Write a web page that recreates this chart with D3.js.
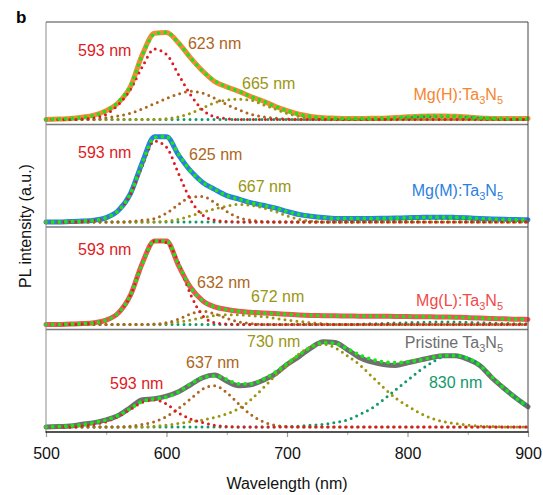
<!DOCTYPE html>
<html>
<head>
    <meta charset="utf-8">
    <title>PL spectra</title>
    <script src="https://d3js.org/d3.v7.min.js"></script>
    <style>
        body { margin: 0; background: #fff; }
        text { font-family: "Liberation Sans", Arial, Helvetica, sans-serif; }
    </style>
</head>
<body>
<div id="chart"></div>
<script type="text/javascript">

// wavelengths (nm), one point every 10 nm
const wavelengths = [500, 510, 520, 530, 540, 550, 560, 570, 580, 590,
                     600, 610, 620, 630, 640, 650, 660, 670, 680, 690,
                     700, 710, 720, 730, 740, 750, 760, 770, 780, 790,
                     800, 810, 820, 830, 840, 850, 860, 870, 880, 890, 900];

const samples = ["Mg(H)", "Mg(M)", "Mg(L)", "Pristine"];
const xTicks = [500, 600, 700, 800, 900];
const xMinorTicks = [550, 650, 750, 850];

// Mg(H):Ta3N5
const mgH_measured = [0, 0.005, 0.01, 0.025, 0.05, 0.1, 0.19, 0.37, 0.74, 0.98,
                      0.99, 0.87, 0.70, 0.55, 0.43, 0.37, 0.32, 0.26, 0.21, 0.15,
                      0.10, 0.06, 0.035, 0.02, 0.015, 0.012, 0.012, 0.013, 0.015, 0.022,
                      0.03, 0.037, 0.04, 0.04, 0.036, 0.028, 0.018, 0.012, 0.01, 0.01, 0.01];
const mgH_fit      = [0, 0.005, 0.01, 0.022, 0.048, 0.1, 0.2, 0.38, 0.73, 0.97,
                      0.99, 0.87, 0.70, 0.55, 0.44, 0.37, 0.32, 0.26, 0.21, 0.15,
                      0.10, 0.06, 0.035, 0.02, 0.015, 0.012, 0.012, 0.013, 0.016, 0.022,
                      0.03, 0.036, 0.04, 0.04, 0.036, 0.028, 0.018, 0.012, 0.01, 0.01, 0.01];
const mgH_593 = [0, 0, 0, 0.005, 0.02, 0.06, 0.17, 0.34, 0.6, 0.8,
                 0.74, 0.51, 0.28, 0.11, 0.03, 0.01, 0, 0, 0, 0,
                 0, 0, 0, 0, 0, 0, 0, 0, 0, 0,
                 0, 0, 0, 0, 0, 0, 0, 0, 0, 0, 0];
const mgH_623 = [0, 0, 0, 0, 0, 0.02, 0.04, 0.07, 0.12, 0.18,
                 0.24, 0.29, 0.32, 0.30, 0.24, 0.17, 0.11, 0.06, 0.03, 0.015,
                 0.005, 0, 0, 0, 0, 0, 0, 0, 0, 0,
                 0, 0, 0, 0, 0, 0, 0, 0, 0, 0, 0];
const mgH_665 = [0, 0, 0, 0, 0, 0, 0, 0, 0, 0,
                 0.01, 0.03, 0.07, 0.13, 0.19, 0.22, 0.23, 0.22, 0.17, 0.12,
                 0.07, 0.035, 0.015, 0.005, 0, 0, 0, 0, 0, 0,
                 0, 0, 0, 0, 0, 0, 0, 0, 0, 0, 0];
const mgH_830 = [0, 0, 0, 0, 0, 0, 0, 0, 0, 0,
                 0, 0, 0, 0, 0, 0, 0, 0, 0, 0,
                 0, 0, 0, 0, 0, 0, 0, 0, 0.005, 0.012,
                 0.02, 0.028, 0.033, 0.035, 0.032, 0.025, 0.016, 0.01, 0.005, 0.002, 0];

// Mg(M):Ta3N5
const mgM_measured = [0, 0, 0.005, 0.01, 0.02, 0.05, 0.13, 0.32, 0.68, 0.97,
                      0.97, 0.76, 0.58, 0.45, 0.37, 0.30, 0.26, 0.22, 0.19, 0.16,
                      0.12, 0.085, 0.065, 0.05, 0.04, 0.04, 0.04, 0.04, 0.042, 0.045,
                      0.048, 0.052, 0.055, 0.055, 0.052, 0.047, 0.04, 0.035, 0.03, 0.027, 0.025];
const mgM_fit      = [0, 0, 0.005, 0.01, 0.02, 0.05, 0.13, 0.32, 0.67, 0.96,
                      0.97, 0.77, 0.58, 0.45, 0.37, 0.30, 0.26, 0.22, 0.19, 0.16,
                      0.12, 0.085, 0.065, 0.05, 0.042, 0.04, 0.04, 0.04, 0.042, 0.045,
                      0.048, 0.052, 0.055, 0.055, 0.052, 0.047, 0.04, 0.035, 0.03, 0.027, 0.025];
const mgM_593 = [0, 0, 0, 0.005, 0.02, 0.05, 0.13, 0.31, 0.64, 0.92,
                 0.85, 0.55, 0.25, 0.08, 0.02, 0.005, 0, 0, 0, 0,
                 0, 0, 0, 0, 0, 0, 0, 0, 0, 0,
                 0, 0, 0, 0, 0, 0, 0, 0, 0, 0, 0];
const mgM_625 = [0, 0, 0, 0, 0, 0, 0, 0.005, 0.02, 0.04,
                 0.10, 0.20, 0.28, 0.29, 0.22, 0.12, 0.05, 0.02, 0.005, 0,
                 0, 0, 0, 0, 0, 0, 0, 0, 0, 0,
                 0, 0, 0, 0, 0, 0, 0, 0, 0, 0, 0];
const mgM_667 = [0, 0, 0, 0, 0, 0, 0, 0, 0, 0,
                 0.01, 0.03, 0.07, 0.11, 0.15, 0.18, 0.20, 0.19, 0.16, 0.12,
                 0.07, 0.03, 0.01, 0, 0, 0, 0, 0, 0, 0,
                 0, 0, 0, 0, 0, 0, 0, 0, 0, 0, 0];
const mgM_830 = [0, 0, 0, 0, 0, 0, 0, 0, 0, 0,
                 0, 0, 0, 0, 0, 0, 0, 0, 0, 0,
                 0, 0, 0, 0, 0, 0, 0.005, 0.01, 0.015, 0.022,
                 0.03, 0.036, 0.04, 0.04, 0.037, 0.03, 0.022, 0.015, 0.01, 0.006, 0.004];

// Mg(L):Ta3N5
const mgL_measured = [0, 0, 0.005, 0.01, 0.02, 0.05, 0.13, 0.33, 0.70, 0.95,
                      0.95, 0.67, 0.42, 0.27, 0.20, 0.17, 0.15, 0.14, 0.13, 0.125,
                      0.115, 0.108, 0.103, 0.10, 0.098, 0.096, 0.095, 0.094, 0.093, 0.092,
                      0.09, 0.088, 0.087, 0.085, 0.082, 0.078, 0.073, 0.068, 0.064, 0.06, 0.057];
const mgL_fit      = [0, 0, 0.005, 0.01, 0.02, 0.05, 0.13, 0.33, 0.69, 0.95,
                      0.95, 0.68, 0.42, 0.27, 0.20, 0.17, 0.15, 0.14, 0.13, 0.124,
                      0.115, 0.108, 0.103, 0.10, 0.098, 0.096, 0.095, 0.094, 0.093, 0.092,
                      0.09, 0.088, 0.087, 0.085, 0.082, 0.078, 0.073, 0.068, 0.064, 0.06, 0.057];
const mgL_593 = [0, 0, 0, 0.005, 0.02, 0.05, 0.13, 0.33, 0.70, 0.95,
                 0.93, 0.70, 0.34, 0.10, 0.02, 0.005, 0, 0, 0, 0,
                 0, 0, 0, 0, 0, 0, 0, 0, 0, 0,
                 0, 0, 0, 0, 0, 0, 0, 0, 0, 0, 0];
const mgL_632 = [0, 0, 0, 0, 0, 0, 0, 0, 0, 0.005,
                 0.02, 0.06, 0.12, 0.15, 0.12, 0.07, 0.03, 0.01, 0, 0,
                 0, 0, 0, 0, 0, 0, 0, 0, 0, 0,
                 0, 0, 0, 0, 0, 0, 0, 0, 0, 0, 0];
const mgL_672 = [0, 0, 0, 0, 0, 0, 0, 0, 0, 0,
                 0.01, 0.03, 0.05, 0.08, 0.10, 0.11, 0.11, 0.10, 0.09, 0.07,
                 0.05, 0.035, 0.02, 0.01, 0, 0, 0, 0, 0, 0,
                 0, 0, 0, 0, 0, 0, 0, 0, 0, 0, 0];
const mgL_830 = [0, 0, 0, 0, 0, 0, 0, 0, 0, 0,
                 0, 0, 0, 0, 0, 0, 0, 0, 0, 0,
                 0, 0, 0, 0, 0, 0, 0.004, 0.008, 0.012, 0.016,
                 0.02, 0.024, 0.027, 0.028, 0.027, 0.024, 0.02, 0.016, 0.012, 0.009, 0.007];

// Pristine Ta3N5
const pristine_measured = [0, 0.005, 0.01, 0.03, 0.05, 0.08, 0.13, 0.22, 0.31, 0.32,
                           0.35, 0.40, 0.48, 0.56, 0.59, 0.52, 0.47, 0.48, 0.53, 0.60,
                           0.71, 0.80, 0.90, 0.97, 0.96, 0.88, 0.79, 0.74, 0.71, 0.70,
                           0.73, 0.76, 0.79, 0.81, 0.81, 0.77, 0.70, 0.56, 0.44, 0.33, 0.23];
const pristine_fit      = [0, 0.005, 0.012, 0.025, 0.05, 0.08, 0.13, 0.21, 0.29, 0.32,
                           0.34, 0.40, 0.49, 0.56, 0.58, 0.54, 0.49, 0.49, 0.54, 0.62,
                           0.72, 0.82, 0.91, 0.96, 0.95, 0.89, 0.82, 0.77, 0.74, 0.73,
                           0.74, 0.76, 0.79, 0.81, 0.81, 0.78, 0.70, 0.57, 0.44, 0.33, 0.23];
const pristine_593 = [0, 0, 0, 0.01, 0.03, 0.06, 0.12, 0.20, 0.28, 0.31,
                      0.26, 0.16, 0.09, 0.05, 0.02, 0.005, 0, 0, 0, 0,
                      0, 0, 0, 0, 0, 0, 0, 0, 0, 0,
                      0, 0, 0, 0, 0, 0, 0, 0, 0, 0, 0];
const pristine_637 = [0, 0, 0, 0, 0, 0, 0, 0.01, 0.03, 0.06,
                      0.12, 0.21, 0.32, 0.43, 0.47, 0.39, 0.26, 0.14, 0.06, 0.02,
                      0.005, 0, 0, 0, 0, 0, 0, 0, 0, 0,
                      0, 0, 0, 0, 0, 0, 0, 0, 0, 0, 0];
const pristine_730 = [0, 0, 0, 0, 0, 0, 0, 0, 0, 0.01,
                      0.02, 0.04, 0.06, 0.08, 0.11, 0.15, 0.21, 0.31, 0.44, 0.58,
                      0.70, 0.83, 0.91, 0.94, 0.90, 0.81, 0.71, 0.58, 0.45, 0.33,
                      0.24, 0.16, 0.10, 0.06, 0.04, 0.02, 0.01, 0.005, 0, 0, 0];
const pristine_830 = [0, 0, 0, 0, 0, 0, 0, 0, 0, 0,
                      0, 0, 0, 0, 0, 0, 0, 0, 0, 0,
                      0.005, 0.01, 0.02, 0.03, 0.05, 0.08, 0.14, 0.21, 0.31, 0.42,
                      0.53, 0.64, 0.73, 0.80, 0.81, 0.78, 0.70, 0.57, 0.44, 0.33, 0.23];

const measuredSeries = [mgH_measured, mgM_measured, mgL_measured, pristine_measured];
const fitSeries = [mgH_fit, mgM_fit, mgL_fit, pristine_fit];
// components in drawing order: teal, olive, brown, red
const componentSeries = [
    [mgH_830, mgH_665, mgH_623, mgH_593],
    [mgM_830, mgM_667, mgM_625, mgM_593],
    [mgL_830, mgL_672, mgL_632, mgL_593],
    [pristine_830, pristine_730, pristine_637, pristine_593]
];

const measuredColors = ["#f7883a", "#2b7fe0", "#f25252", "#6f6f6f"];
const nameColors = ["#f5852f", "#2b7fe0", "#f04a4a", "#6e6e6e"];
const componentColors = ["#12996a", "#9a9612", "#ad6620", "#dd1b22"];
const fitColor = "#19e619";

// peak labels: [text, wavelength, intensity, colour index]
const peakLabels = [
    [["593 nm", 526.6, 0.72, 3], ["623 nm", 617.8, 0.80, 2], ["665 nm", 662.7, 0.35, 1]],
    [["593 nm", 526.6, 0.73, 3], ["625 nm", 618.7, 0.70, 2], ["667 nm", 659.3, 0.34, 1]],
    [["593 nm", 526.6, 0.79, 3], ["632 nm", 625.3, 0.415, 2], ["672 nm", 670.1, 0.255, 1]],
    [["593 nm", 553.1, 0.43, 3], ["637 nm", 616.2, 0.675, 2], ["730 nm", 666.8, 0.91, 1], ["830 nm", 817.8, 0.44, 0]]
];
const sampleNames = [
    [["Mg(H):Ta", ""], ["3", "sub"], ["N", ""], ["5", "sub"]],
    [["Mg(M):Ta", ""], ["3", "sub"], ["N", ""], ["5", "sub"]],
    [["Mg(L):Ta", ""], ["3", "sub"], ["N", ""], ["5", "sub"]],
    [["Pristine Ta", ""], ["3", "sub"], ["N", ""], ["5", "sub"]]
];
const nameY = [0.22, 0.295, 0.214, 0.90];

function render_spectra() {
    let width = 543, height = 495;
    let left = 46, right = 528, top = 22, bottom = 432;

    let svg = d3.select("#chart")
        .append("svg")
            .attr("width", width)
            .attr("height", height);

    let xScale = d3.scaleLinear().domain([500, 900]).range([left, right]);
    let panelScale = d3.scaleBand().domain(samples).range([top, bottom]);

    samples.forEach(function(s, p) {
        let pTop = panelScale(s);
        let pBottom = pTop + panelScale.bandwidth();
        let yScale = d3.scaleLinear().domain([-0.057, 1.108]).range([pBottom, pTop]);

        let line = d3.line()
            .x(function(d, i) { return xScale(wavelengths[i]); })
            .y(function(d) { return yScale(d); })
            .curve(d3.curveMonotoneX);

        let g = svg.append("g");

        // measured spectrum
        g.append("path")
            .attr("d", line(measuredSeries[p]))
            .attr("fill", "none")
            .attr("stroke", measuredColors[p])
            .attr("stroke-width", 5)
            .attr("stroke-linejoin", "round")
            .attr("stroke-linecap", "round");

        // fitted components
        componentSeries[p].forEach(function(comp, c) {
            g.append("path")
                .attr("d", line(comp))
                .attr("fill", "none")
                .attr("stroke", componentColors[c])
                .attr("stroke-width", 3)
                .attr("stroke-linecap", "round")
                .attr("stroke-dasharray", "0 6");
        });

        // cumulative fit
        g.append("path")
            .attr("d", line(fitSeries[p]))
            .attr("fill", "none")
            .attr("stroke", fitColor)
            .attr("stroke-width", 3.8)
            .attr("stroke-linecap", "round")
            .attr("stroke-dasharray", "0 6.6");

        // peak labels
        peakLabels[p].forEach(function(l) {
            g.append("text")
                .attr("x", xScale(l[1]))
                .attr("y", yScale(l[2]))
                .attr("font-size", "16px")
                .attr("fill", componentColors[l[3]])
                .text(l[0]);
        });

        // sample name with subscripts
        let name = g.append("text")
            .attr("x", xScale(879.3))
            .attr("y", yScale(nameY[p]))
            .attr("font-size", "16px")
            .attr("text-anchor", "end")
            .attr("fill", nameColors[p]);
        sampleNames[p].forEach(function(part, k) {
            let t = name.append("tspan").text(part[0]);
            if (part[1] === "sub") {
                t.attr("font-size", "11px").attr("dy", 4);
            } else if (k > 0) {
                t.attr("dy", -4);
            }
        });

        // separator between panels
        if (p > 0) {
            svg.append("line")
                .attr("x1", left).attr("x2", right)
                .attr("y1", pTop).attr("y2", pTop)
                .attr("stroke", "#7a7a7a")
                .attr("stroke-width", 1.6);
        }
    });

    // frame
    svg.append("line").attr("x1", left).attr("x2", right).attr("y1", top).attr("y2", top)
        .attr("stroke", "#444").attr("stroke-width", 1);
    svg.append("line").attr("x1", right).attr("x2", right).attr("y1", top).attr("y2", bottom)
        .attr("stroke", "#444").attr("stroke-width", 1);
    svg.append("line").attr("x1", left).attr("x2", left).attr("y1", top).attr("y2", bottom)
        .attr("stroke", "#8a8a8a").attr("stroke-width", 1);

    // x axis
    let xAxis = d3.axisBottom(xScale)
        .tickValues(xTicks)
        .tickFormat(d3.format("d"))
        .tickSize(5)
        .tickPadding(11);
    let xAxisMinor = d3.axisBottom(xScale)
        .tickValues(xMinorTicks)
        .tickFormat("")
        .tickSize(3);

    let ax = svg.append("g")
        .attr("transform", "translate(0," + bottom + ")")
        .call(xAxis);
    ax.select(".domain").remove();
    ax.selectAll(".tick line").attr("stroke", "#999").attr("stroke-width", 1.2);
    ax.selectAll(".tick text")
        .attr("font-family", "'Liberation Sans', Arial, sans-serif")
        .attr("font-size", "16px")
        .attr("fill", "#111");

    let axm = svg.append("g")
        .attr("transform", "translate(0," + bottom + ")")
        .call(xAxisMinor);
    axm.select(".domain").remove();
    axm.selectAll(".tick line").attr("stroke", "#aaa");

    svg.append("line").attr("x1", left - 0.5).attr("x2", right + 0.5).attr("y1", bottom).attr("y2", bottom)
        .attr("stroke", "#1a1a1a").attr("stroke-width", 1.3);

    // axis titles
    svg.append("text")
        .attr("x", (left + right) / 2)
        .attr("y", 489)
        .attr("text-anchor", "middle")
        .attr("font-size", "16px")
        .attr("fill", "#111")
        .text("Wavelength (nm)");

    svg.append("text")
        .attr("transform", "translate(31," + 226 + ") rotate(-90)")
        .attr("text-anchor", "middle")
        .attr("font-size", "16px")
        .attr("fill", "#111")
        .text("PL intensity (a.u.)");

    // panel letter
    svg.append("text")
        .attr("x", 16)
        .attr("y", 23)
        .attr("font-size", "17px")
        .attr("font-weight", "bold")
        .attr("fill", "#000")
        .text("b");
}

render_spectra();

</script>
</body>
</html>
